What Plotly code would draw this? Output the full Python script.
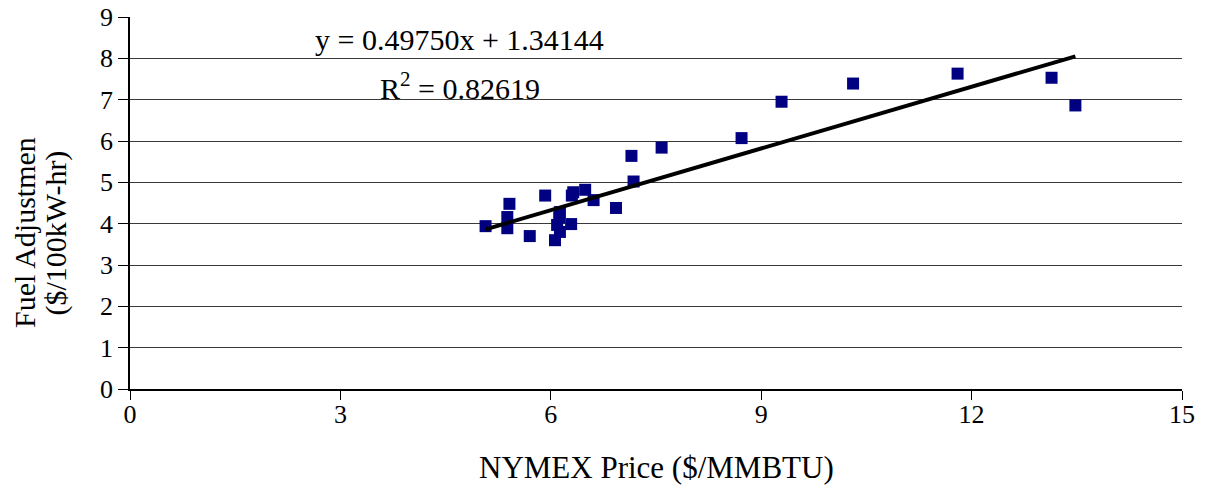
import plotly.graph_objects as go

# Data
nymex_price = [5.07, 5.38, 5.38, 5.41, 5.70, 5.92, 6.06, 6.13, 6.09, 6.12, 6.13,
               6.29, 6.30, 6.32, 6.49, 6.61, 6.93, 7.15, 7.18, 7.58, 8.72, 9.29,
               10.31, 11.80, 13.14, 13.48]
fuel_adjustment = [3.94, 4.16, 3.89, 4.48, 3.70, 4.68, 3.60, 3.80, 3.97, 4.15, 4.28,
                   3.99, 4.68, 4.76, 4.82, 4.57, 4.38, 5.64, 5.02, 5.84, 6.07, 6.95,
                   7.39, 7.63, 7.53, 6.86]

slope = 0.49750
intercept = 1.34144
r_squared = 0.82619

x_ticks = [0, 3, 6, 9, 12, 15]
y_ticks = [0, 1, 2, 3, 4, 5, 6, 7, 8, 9]

x_title = "NYMEX Price ($/MMBTU)"
y_title_lines = ["Fuel Adjustmen", "($/100kW-hr)"]

trend_x = [min(nymex_price), max(nymex_price)]
trend_y = [slope * v + intercept for v in trend_x]

font_family = "Liberation Serif, Times New Roman, serif"

fig = go.Figure()
fig.add_trace(go.Scatter(
    x=nymex_price, y=fuel_adjustment, mode="markers",
    marker=dict(symbol="square", size=12, color="#000080",
                line=dict(width=0)),
    showlegend=False, hoverinfo="x+y"))
fig.add_trace(go.Scatter(
    x=trend_x, y=trend_y, mode="lines",
    line=dict(color="black", width=4),
    showlegend=False, hoverinfo="skip"))

# trendline equation and R^2
fig.add_annotation(x=4.7, y=8.45, xref="x", yref="y",
                   text=f"y = {slope:.5f}x + {intercept:.5f}",
                   showarrow=False, font=dict(size=30, color="black", family=font_family))
fig.add_annotation(x=4.7, y=7.32, xref="x", yref="y",
                   text=f"R<sup>2</sup> = {r_squared:.5f}",
                   showarrow=False, font=dict(size=30, color="black", family=font_family))

# axis titles
fig.add_annotation(x=0.5, y=-0.21, xref="paper", yref="paper",
                   text=x_title, showarrow=False, xanchor="center", yanchor="middle",
                   font=dict(size=31, color="black", family=font_family))
for i, line in enumerate(y_title_lines):
    fig.add_annotation(x=[-0.1005, -0.0705][i], y=0.42, xref="paper", yref="paper",
                       text=line, showarrow=False, textangle=-90,
                       xanchor="center", yanchor="middle", borderpad=0,
                       font=dict(size=30, color="black", family=font_family))

fig.update_layout(
    width=1207, height=495,
    margin=dict(l=130, r=25, t=17, b=106, autoexpand=False),
    paper_bgcolor="white", plot_bgcolor="white",
    font=dict(family=font_family, size=26, color="black"),
    xaxis=dict(range=[0, 15], tickvals=x_ticks, showgrid=False, zeroline=False,
               showline=True, linecolor="black", linewidth=1.5, automargin=False,
               ticks="outside", ticklen=9, tickcolor="black", ticklabelstandoff=-8,
               ticklabeloverflow="allow",
               tickfont=dict(size=26, family=font_family)),
    yaxis=dict(range=[0, 9], tickvals=y_ticks, showgrid=True,
               gridcolor="#3a3a3a", gridwidth=1.2, zeroline=False,
               showline=True, linecolor="black", linewidth=1.5, automargin=False,
               ticks="outside", ticklen=10, tickcolor="black",
               ticklabeloverflow="allow",
               tickfont=dict(size=26, family=font_family)),
)

fig.write_html("out.html",
               config={"displayModeBar": False},
               post_script="document.body.style.margin='0';document.body.style.overflow='hidden';")
